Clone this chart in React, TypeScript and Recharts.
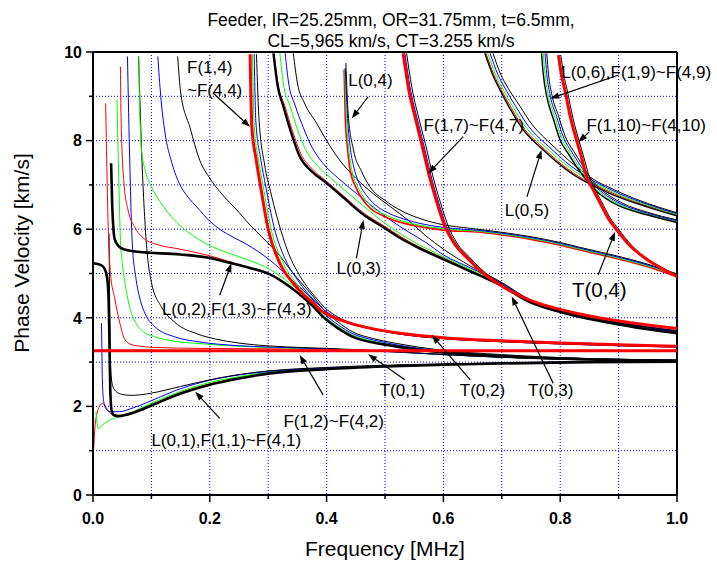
import React from 'react';
import { LineChart, Line, XAxis, YAxis, CartesianGrid, ReferenceLine, ReferenceDot } from 'recharts';

type Pt = [number, number];

const RED = '#ff0000';
const GREEN = '#00ff00';
const BLUE = '#0000ff';
const BLACK = '#000000';
const FONT = 'Arial, "Liberation Sans", Helvetica, sans-serif';

const xTicks = [0, 0.1, 0.2, 0.3, 0.4, 0.5, 0.6, 0.7, 0.8, 0.9, 1.0];
const yTicks = [0, 1, 2, 3, 4, 5, 6, 7, 8, 9, 10];

// frequency [MHz], phase velocity [km/s]

// L(0,1), F(1,1)~F(4,1)
const L01: Pt[] = [[0, 5.23], [0.014, 5.19], [0.02, 5.1], [0.024, 4.92], [0.0265, 4.5], [0.028, 3.6], [0.0295, 2.4], [0.032, 1.9], [0.036, 1.8], [0.045, 1.78], [0.06, 1.82], [0.08, 1.91], [0.1, 2.02], [0.15, 2.29], [0.2, 2.49], [0.25, 2.63], [0.3, 2.74], [0.4, 2.84], [0.5, 2.9], [0.6, 2.94], [0.7, 2.97], [0.85, 3.0], [1, 3.01]];
const F11: Pt[] = [[0.001, 1.0], [0.003, 1.47], [0.007, 1.85], [0.011, 2.0], [0.016, 2.07], [0.02, 2.03], [0.026, 1.9], [0.034, 1.81], [0.045, 1.8], [0.06, 1.84], [0.08, 1.93], [0.1, 2.04], [0.15, 2.31], [0.2, 2.51], [0.25, 2.65], [0.3, 2.75], [0.4, 2.85], [0.5, 2.9], [0.6, 2.94], [0.7, 2.97], [0.85, 3.0], [1, 3.01]];
const F21: Pt[] = [[0.005, 1.88], [0.007, 1.62], [0.009, 1.5], [0.013, 1.54], [0.02, 1.62], [0.03, 1.7], [0.04, 1.75], [0.065, 1.86], [0.08, 1.95], [0.1, 2.07], [0.15, 2.34], [0.2, 2.54], [0.25, 2.67], [0.3, 2.77], [0.4, 2.86], [0.5, 2.91], [0.6, 2.95], [0.7, 2.98], [0.85, 3.0], [1, 3.02]];
const F31: Pt[] = [[0.0145, 3.88], [0.0152, 3.3], [0.016, 2.6], [0.018, 2.15], [0.022, 1.95], [0.03, 1.88], [0.045, 1.88], [0.065, 1.95], [0.08, 2.02], [0.1, 2.13], [0.15, 2.4], [0.2, 2.59], [0.25, 2.71], [0.3, 2.79], [0.4, 2.87], [0.5, 2.92], [0.6, 2.95], [0.7, 2.98], [0.85, 3.01], [1, 3.02]];
const F41: Pt[] = [[0.0275, 5.9], [0.0283, 4.6], [0.0295, 3.3], [0.031, 2.7], [0.034, 2.45], [0.04, 2.33], [0.05, 2.27], [0.065, 2.25], [0.08, 2.26], [0.1, 2.3], [0.15, 2.45], [0.2, 2.6], [0.25, 2.72], [0.3, 2.8], [0.4, 2.88], [0.5, 2.93], [0.6, 2.96], [0.7, 2.98], [0.85, 3.01], [1, 3.03]];

// T(0,1)
const T01: Pt[] = [[0, 3.255], [1, 3.255]];

// F(1,2)~F(4,2)
const F12: Pt[] = [[0.0217, 8.84], [0.024, 7.2], [0.0267, 5.75], [0.03, 5.0], [0.037, 4.45], [0.046, 3.88], [0.054, 3.52], [0.065, 3.4], [0.08, 3.36], [0.106, 3.33], [0.18, 3.31], [0.3, 3.3], [0.4, 3.29], [0.5, 3.24], [0.6, 3.17], [0.7, 3.11], [0.8, 3.07], [0.9, 3.05], [1, 3.03]];
const F22: Pt[] = [[0.041, 8.92], [0.044, 7.2], [0.047, 5.75], [0.05, 5.25], [0.054, 4.85], [0.06, 4.4], [0.066, 4.1], [0.075, 3.85], [0.083, 3.72], [0.106, 3.57], [0.14, 3.47], [0.18, 3.42], [0.25, 3.36], [0.3, 3.33], [0.4, 3.3], [0.5, 3.24], [0.6, 3.17], [0.7, 3.11], [0.8, 3.07], [0.9, 3.05], [1, 3.03]];
const F32: Pt[] = [[0.059, 9.9], [0.063, 7.5], [0.067, 5.75], [0.074, 4.85], [0.08, 4.45], [0.089, 4.1], [0.106, 3.8], [0.14, 3.57], [0.18, 3.46], [0.25, 3.37], [0.3, 3.34], [0.4, 3.3], [0.5, 3.24], [0.6, 3.17], [0.7, 3.11], [0.8, 3.07], [0.9, 3.05], [1, 3.03]];
const F42: Pt[] = [[0.078, 9.9], [0.084, 7.5], [0.091, 5.75], [0.1, 4.8], [0.117, 4.25], [0.14, 3.9], [0.18, 3.63], [0.21, 3.52], [0.25, 3.43], [0.32, 3.35], [0.4, 3.31], [0.5, 3.25], [0.6, 3.17], [0.7, 3.11], [0.8, 3.07], [0.9, 3.05], [1, 3.03]];

// L(0,2), F(1,3)~F(4,3)
const L02: Pt[] = [[0.031, 7.49], [0.033, 6.5], [0.035, 6.0], [0.037, 5.78], [0.043, 5.63], [0.054, 5.54], [0.077, 5.49], [0.15, 5.43], [0.2, 5.35], [0.235, 5.24], [0.27, 5.12], [0.303, 4.98], [0.337, 4.7], [0.36, 4.46], [0.377, 4.26], [0.394, 4.02], [0.42, 3.76], [0.445, 3.57], [0.48, 3.44], [0.52, 3.35], [0.59, 3.23], [0.7, 3.13], [0.85, 3.06], [1, 3.03]];
const F13: Pt[] = [[0.047, 9.67], [0.048, 8.54], [0.053, 7.04], [0.06, 6.43], [0.071, 6.06], [0.088, 5.78], [0.106, 5.67], [0.149, 5.55], [0.2, 5.4], [0.25, 5.2], [0.303, 4.99], [0.337, 4.71], [0.36, 4.47], [0.377, 4.27], [0.394, 4.03], [0.42, 3.77], [0.445, 3.58], [0.48, 3.45], [0.52, 3.36], [0.59, 3.24], [0.7, 3.14], [0.85, 3.07], [1, 3.04]];
const F23: Pt[] = [[0.0785, 9.9], [0.0795, 8.9], [0.081, 8.3], [0.083, 7.8], [0.09, 7.3], [0.1, 6.96], [0.115, 6.62], [0.128, 6.38], [0.149, 6.08], [0.18, 5.78], [0.2, 5.63], [0.23, 5.47], [0.263, 5.32], [0.303, 5.09], [0.337, 4.78], [0.36, 4.53], [0.377, 4.33], [0.394, 4.07], [0.42, 3.8], [0.445, 3.61], [0.48, 3.47], [0.52, 3.38], [0.59, 3.25], [0.7, 3.15], [0.85, 3.07], [1, 3.04]];
const F33: Pt[] = [[0.111, 9.9], [0.116, 9.0], [0.123, 8.2], [0.135, 7.5], [0.149, 7.0], [0.163, 6.72], [0.178, 6.5], [0.2, 6.18], [0.217, 6.0], [0.24, 5.82], [0.263, 5.66], [0.303, 5.3], [0.337, 4.9], [0.36, 4.62], [0.377, 4.4], [0.394, 4.12], [0.42, 3.84], [0.445, 3.64], [0.48, 3.5], [0.52, 3.39], [0.59, 3.26], [0.7, 3.15], [0.85, 3.08], [1, 3.04]];
const F43: Pt[] = [[0.145, 9.9], [0.15, 9.1], [0.166, 8.3], [0.183, 7.55], [0.2, 7.15], [0.217, 6.85], [0.25, 6.38], [0.263, 6.18], [0.297, 5.72], [0.32, 5.4], [0.337, 5.1], [0.36, 4.74], [0.377, 4.48], [0.394, 4.2], [0.42, 3.9], [0.445, 3.68], [0.48, 3.53], [0.52, 3.42], [0.59, 3.28], [0.7, 3.17], [0.85, 3.08], [1, 3.05]];

// T(0,2), F(1,4)~F(4,4)
const T02: Pt[] = [[0.269, 9.95], [0.272, 8.31], [0.279, 7.6], [0.286, 7.04], [0.3, 6.0], [0.32, 5.23], [0.343, 4.78], [0.36, 4.53], [0.377, 4.33], [0.389, 4.18], [0.41, 4.02], [0.44, 3.88], [0.48, 3.75], [0.526, 3.65], [0.6, 3.55], [0.7, 3.48], [0.8, 3.43], [0.9, 3.39], [1, 3.36]];
const F24: Pt[] = [[0.273, 9.95], [0.276, 8.35], [0.283, 7.6], [0.291, 7.0], [0.305, 6.0], [0.325, 5.26], [0.347, 4.8], [0.363, 4.55], [0.379, 4.35], [0.391, 4.19], [0.412, 4.02], [0.44, 3.87], [0.48, 3.74], [0.526, 3.64], [0.6, 3.54], [0.7, 3.47], [0.8, 3.42], [0.9, 3.38], [1, 3.35]];
const F34: Pt[] = [[0.276, 9.95], [0.279, 8.4], [0.287, 7.6], [0.296, 6.95], [0.31, 6.05], [0.33, 5.3], [0.351, 4.84], [0.366, 4.58], [0.381, 4.37], [0.393, 4.21], [0.413, 4.03], [0.44, 3.87], [0.48, 3.74], [0.526, 3.63], [0.6, 3.53], [0.7, 3.46], [0.8, 3.41], [0.9, 3.37], [1, 3.34]];
const F44: Pt[] = [[0.28, 9.95], [0.284, 8.54], [0.294, 7.45], [0.304, 6.85], [0.315, 6.28], [0.335, 5.45], [0.355, 4.93], [0.37, 4.64], [0.384, 4.42], [0.396, 4.24], [0.415, 4.05], [0.44, 3.88], [0.48, 3.74], [0.526, 3.63], [0.6, 3.53], [0.7, 3.46], [0.8, 3.41], [0.9, 3.37], [1, 3.34]];

// L(0,3), F(1,5)~F(4,5)
const L03: Pt[] = [[0.309, 9.97], [0.316, 9.25], [0.326, 8.77], [0.34, 8.15], [0.354, 7.64], [0.375, 7.3], [0.4, 7.04], [0.43, 6.7], [0.463, 6.33], [0.5, 6.02], [0.526, 5.8], [0.554, 5.6], [0.6, 5.32], [0.646, 5.05], [0.697, 4.74], [0.75, 4.34], [0.8, 4.13], [0.85, 3.97], [0.9, 3.85], [0.95, 3.74], [1, 3.65]];
const F15: Pt[] = [[0.31, 9.97], [0.318, 9.2], [0.328, 8.8], [0.342, 8.2], [0.356, 7.7], [0.377, 7.34], [0.4, 7.08], [0.43, 6.74], [0.463, 6.37], [0.5, 6.06], [0.526, 5.84], [0.554, 5.63], [0.6, 5.35], [0.646, 5.07], [0.697, 4.76], [0.75, 4.36], [0.8, 4.15], [0.85, 3.99], [0.9, 3.86], [0.95, 3.75], [1, 3.66]];
const F25: Pt[] = [[0.32, 9.97], [0.327, 9.2], [0.337, 8.8], [0.35, 8.25], [0.364, 7.8], [0.385, 7.42], [0.41, 7.12], [0.44, 6.78], [0.47, 6.45], [0.5, 6.13], [0.526, 5.9], [0.554, 5.68], [0.6, 5.38], [0.646, 5.1], [0.697, 4.78], [0.75, 4.37], [0.8, 4.16], [0.85, 4.0], [0.9, 3.87], [0.95, 3.76], [1, 3.67]];
const F35: Pt[] = [[0.329, 9.97], [0.335, 9.3], [0.346, 8.8], [0.36, 8.3], [0.373, 7.9], [0.393, 7.5], [0.42, 7.15], [0.45, 6.82], [0.48, 6.5], [0.51, 6.2], [0.54, 5.94], [0.57, 5.7], [0.6, 5.42], [0.646, 5.13], [0.697, 4.8], [0.75, 4.38], [0.8, 4.17], [0.85, 4.01], [0.9, 3.88], [0.95, 3.77], [1, 3.68]];
const F45: Pt[] = [[0.343, 9.97], [0.35, 9.3], [0.362, 8.85], [0.383, 8.39], [0.4, 8.0], [0.42, 7.6], [0.45, 7.15], [0.48, 6.8], [0.51, 6.5], [0.54, 6.2], [0.57, 5.85], [0.6, 5.55], [0.646, 5.17], [0.697, 4.82], [0.75, 4.4], [0.8, 4.18], [0.85, 4.02], [0.9, 3.89], [0.95, 3.78], [1, 3.69]];

// L(0,4), F(1,6)~F(4,6)
const F16: Pt[] = [[0.43, 9.6], [0.432, 8.5], [0.436, 7.8], [0.44, 7.35], [0.45, 6.95], [0.46, 6.7], [0.475, 6.47], [0.497, 6.3], [0.525, 6.16], [0.554, 6.07], [0.6, 5.98], [0.663, 5.93], [0.7, 5.87], [0.75, 5.77], [0.8, 5.64], [0.834, 5.53], [0.88, 5.39], [0.92, 5.26], [0.96, 5.11], [1, 4.93]];
const F26: Pt[] = [[0.431, 9.62], [0.434, 8.5], [0.438, 7.8], [0.443, 7.35], [0.453, 6.97], [0.463, 6.73], [0.478, 6.5], [0.5, 6.33], [0.528, 6.19], [0.556, 6.1], [0.6, 6.01], [0.663, 5.95], [0.7, 5.89], [0.75, 5.79], [0.8, 5.66], [0.834, 5.55], [0.88, 5.41], [0.92, 5.28], [0.96, 5.13], [1, 4.95]];
const F36: Pt[] = [[0.432, 9.64], [0.436, 8.5], [0.441, 7.8], [0.447, 7.38], [0.457, 7.0], [0.468, 6.77], [0.483, 6.55], [0.505, 6.37], [0.532, 6.23], [0.56, 6.13], [0.6, 6.04], [0.663, 5.97], [0.7, 5.91], [0.75, 5.81], [0.8, 5.68], [0.834, 5.57], [0.88, 5.43], [0.92, 5.3], [0.96, 5.15], [1, 4.97]];
const L04: Pt[] = [[0.433, 9.75], [0.437, 8.6], [0.446, 7.79], [0.46, 7.3], [0.474, 6.96], [0.5, 6.65], [0.526, 6.43], [0.56, 6.24], [0.6, 6.1], [0.646, 6.02], [0.7, 5.93], [0.75, 5.83], [0.8, 5.7], [0.834, 5.59], [0.88, 5.45], [0.92, 5.32], [0.96, 5.17], [1, 4.99]];

// T(0,3), F(1,7)~F(4,7)
const T03: Pt[] = [[0.531, 9.97], [0.54, 9.2], [0.554, 8.4], [0.566, 7.75], [0.574, 7.3], [0.589, 6.6], [0.6, 6.15], [0.62, 5.65], [0.64, 5.36], [0.66, 5.1], [0.697, 4.74], [0.714, 4.61], [0.75, 4.39], [0.8, 4.19], [0.85, 4.04], [0.9, 3.93], [0.95, 3.84], [1, 3.76]];
const F37: Pt[] = [[0.534, 9.97], [0.543, 9.2], [0.557, 8.4], [0.569, 7.76], [0.577, 7.3], [0.592, 6.6], [0.603, 6.15], [0.622, 5.66], [0.642, 5.37], [0.661, 5.11], [0.698, 4.75], [0.715, 4.61], [0.75, 4.38], [0.8, 4.17], [0.85, 4.02], [0.9, 3.9], [0.95, 3.8], [1, 3.71]];
const F47: Pt[] = [[0.537, 9.97], [0.546, 9.2], [0.56, 8.4], [0.572, 7.77], [0.58, 7.3], [0.595, 6.6], [0.606, 6.15], [0.624, 5.67], [0.644, 5.38], [0.663, 5.12], [0.699, 4.76], [0.716, 4.62], [0.75, 4.37], [0.8, 4.16], [0.85, 4.01], [0.9, 3.89], [0.95, 3.79], [1, 3.7]];

// L(0,5), F(1,8)~F(4,8)
const L05: Pt[] = [[0.671, 9.97], [0.684, 9.5], [0.697, 9.14], [0.715, 8.7], [0.737, 8.24], [0.755, 7.98], [0.771, 7.79], [0.79, 7.56], [0.811, 7.34], [0.83, 7.17], [0.851, 7.02], [0.875, 6.87], [0.897, 6.74], [0.95, 6.5], [1, 6.3]];
const F18: Pt[] = [[0.673, 9.97], [0.686, 9.5], [0.699, 9.15], [0.717, 8.72], [0.739, 8.26], [0.757, 8.0], [0.773, 7.81], [0.792, 7.58], [0.813, 7.36], [0.832, 7.19], [0.853, 7.04], [0.877, 6.89], [0.899, 6.76], [0.95, 6.52], [1, 6.32]];
const F28: Pt[] = [[0.676, 9.97], [0.689, 9.5], [0.702, 9.16], [0.72, 8.74], [0.742, 8.29], [0.76, 8.03], [0.776, 7.84], [0.795, 7.61], [0.816, 7.39], [0.835, 7.22], [0.855, 7.06], [0.879, 6.91], [0.9, 6.78], [0.95, 6.54], [1, 6.33]];
const F38: Pt[] = [[0.68, 9.97], [0.693, 9.5], [0.706, 9.17], [0.724, 8.77], [0.746, 8.32], [0.764, 8.06], [0.78, 7.87], [0.799, 7.64], [0.819, 7.42], [0.838, 7.25], [0.858, 7.08], [0.881, 6.93], [0.902, 6.8], [0.95, 6.56], [1, 6.35]];
const F48: Pt[] = [[0.685, 9.97], [0.698, 9.5], [0.711, 9.18], [0.73, 8.8], [0.752, 8.36], [0.77, 8.1], [0.786, 7.9], [0.804, 7.68], [0.823, 7.46], [0.841, 7.28], [0.86, 7.1], [0.883, 6.95], [0.904, 6.82], [0.95, 6.58], [1, 6.37]];

// L(0,6), F(1,9)~F(4,9)
const L06: Pt[] = [[0.768, 9.97], [0.771, 9.5], [0.777, 8.99], [0.788, 8.5], [0.8, 8.01], [0.814, 7.7], [0.828, 7.41], [0.845, 7.11], [0.86, 6.88], [0.88, 6.68], [0.9, 6.53], [0.95, 6.32], [1, 6.15]];
const F29: Pt[] = [[0.771, 9.97], [0.774, 9.5], [0.78, 9.0], [0.791, 8.52], [0.803, 8.04], [0.817, 7.72], [0.831, 7.43], [0.847, 7.13], [0.862, 6.9], [0.882, 6.7], [0.902, 6.55], [0.95, 6.34], [1, 6.17]];
const F39: Pt[] = [[0.774, 9.97], [0.777, 9.5], [0.783, 9.01], [0.794, 8.54], [0.806, 8.06], [0.82, 7.74], [0.834, 7.45], [0.849, 7.15], [0.864, 6.92], [0.884, 6.72], [0.904, 6.57], [0.95, 6.36], [1, 6.19]];
const F49: Pt[] = [[0.777, 9.97], [0.78, 9.5], [0.786, 9.02], [0.797, 8.56], [0.809, 8.08], [0.823, 7.76], [0.837, 7.47], [0.851, 7.17], [0.866, 6.94], [0.886, 6.74], [0.906, 6.59], [0.95, 6.38], [1, 6.21]];

// T(0,4), F(1,10)~F(4,10)
const T04: Pt[] = [[0.797, 9.93], [0.802, 9.5], [0.808, 9.14], [0.818, 8.5], [0.828, 8.01], [0.837, 7.6], [0.845, 7.2], [0.856, 6.9], [0.868, 6.6], [0.882, 6.25], [0.897, 5.98], [0.92, 5.62], [0.954, 5.27], [0.98, 5.07], [1, 4.93]];
const F410: Pt[] = [[0.801, 9.93], [0.806, 9.5], [0.812, 9.14], [0.822, 8.5], [0.832, 8.01], [0.841, 7.6], [0.849, 7.22], [0.859, 6.92], [0.871, 6.62], [0.885, 6.27], [0.9, 6.0], [0.922, 5.64], [0.955, 5.28], [0.98, 5.09], [1, 4.95]];

interface Curve { name: string; pts: Pt[]; color: string; width: number }

const thin = (name: string, pts: Pt[], color: string): Curve => ({ name, pts, color, width: 1 });

const curves: Curve[] = [
  thin('F(1,1)', F11, RED), thin('F(2,1)', F21, GREEN), thin('F(3,1)', F31, BLUE), thin('F(4,1)', F41, BLACK),
  thin('F(1,2)', F12, RED), thin('F(2,2)', F22, GREEN), thin('F(3,2)', F32, BLUE), thin('F(4,2)', F42, BLACK),
  thin('F(1,3)', F13, RED), thin('F(2,3)', F23, GREEN), thin('F(3,3)', F33, BLUE), thin('F(4,3)', F43, BLACK),
  thin('F(2,4)', F24, GREEN), thin('F(3,4)', F34, BLUE), thin('F(4,4)', F44, BLACK),
  thin('F(1,5)', F15, RED), thin('F(2,5)', F25, GREEN), thin('F(3,5)', F35, BLUE), thin('F(4,5)', F45, BLACK),
  { name: 'F(1,6)', pts: F16, color: RED, width: 1.6 },
  thin('F(2,6)', F26, GREEN), thin('F(3,6)', F36, BLUE), thin('L(0,4)', L04, BLACK),
  thin('F(3,7)', F37, BLUE), thin('F(4,7)', F47, BLACK),
  thin('F(1,8)', F18, RED), thin('F(2,8)', F28, GREEN), thin('F(3,8)', F38, BLUE), thin('F(4,8)', F48, BLACK),
  thin('F(2,9)', F29, GREEN), thin('F(3,9)', F39, BLUE), thin('F(4,9)', F49, BLACK),
  thin('F(4,10)', F410, BLACK),
  { name: 'L(0,5)', pts: L05, color: BLACK, width: 1.4 },
  { name: 'L(0,6)', pts: L06, color: BLACK, width: 1.4 },
  { name: 'L(0,1)', pts: L01, color: BLACK, width: 2.6 },
  { name: 'L(0,2)', pts: L02, color: BLACK, width: 2.6 },
  { name: 'L(0,3)', pts: L03, color: BLACK, width: 2.4 },
  { name: 'T(0,1)', pts: T01, color: RED, width: 3 },
  { name: 'T(0,2)', pts: T02, color: RED, width: 3 },
  { name: 'T(0,3)', pts: T03, color: RED, width: 3 },
  { name: 'T(0,4)', pts: T04, color: RED, width: 3 },
];

// annotation texts: [f, v] of the text's left end
interface Note { text: string; at: Pt; big?: boolean }
const notes: Note[] = [
  { text: 'F(1,4)', at: [0.161, 9.66] },
  { text: '~F(4,4)', at: [0.161, 9.14] },
  { text: 'L(0,4)', at: [0.437, 9.37] },
  { text: 'F(1,7)~F(4,7)', at: [0.566, 8.35] },
  { text: 'L(0,6),F(1,9)~F(4,9)', at: [0.802, 9.56] },
  { text: 'F(1,10)~F(4,10)', at: [0.845, 8.35] },
  { text: 'L(0,5)', at: [0.705, 6.43] },
  { text: 'L(0,3)', at: [0.417, 5.12] },
  { text: 'L(0,2),F(1,3)~F(4,3)', at: [0.118, 4.21] },
  { text: 'L(0,1),F(1,1)~F(4,1)', at: [0.1, 1.24] },
  { text: 'F(1,2)~F(4,2)', at: [0.326, 1.68] },
  { text: 'T(0,1)', at: [0.491, 2.37] },
  { text: 'T(0,2)', at: [0.628, 2.37] },
  { text: 'T(0,3)', at: [0.745, 2.37] },
  { text: 'T(0,4)', at: [0.82, 4.63], big: true },
];

// arrows: [tail, head]
const arrows: [Pt, Pt][] = [
  [[0.205, 9.08], [0.269, 8.31]],
  [[0.471, 8.99], [0.443, 8.5]],
  [[0.634, 8.09], [0.574, 7.26]],
  [[0.9, 9.48], [0.783, 8.95]],
  [[0.85, 8.2], [0.831, 7.97]],
  [[0.743, 6.73], [0.768, 7.79]],
  [[0.451, 5.34], [0.463, 6.21]],
  [[0.217, 4.51], [0.237, 5.23]],
  [[0.217, 1.73], [0.175, 2.33]],
  [[0.394, 2.26], [0.354, 3.16]],
  [[0.534, 2.6], [0.471, 3.18]],
  [[0.646, 2.6], [0.58, 3.61]],
  [[0.788, 2.52], [0.717, 4.48]],
  [[0.865, 4.97], [0.894, 5.94]],
];

const XTick = (props: any) => {
  const { x, y, payload } = props;
  const v = payload.value as number;
  const major = Math.round(v * 10) % 2 === 0;
  return (
    <g>
      <line x1={x} y1={y} x2={x} y2={y + (major ? 7 : 4)} stroke={BLACK} strokeWidth={1.5} />
      {major && (
        <text x={x} y={y + 29} textAnchor="middle" fontFamily={FONT} fontWeight="bold" fontSize={16} fill={BLACK}>
          {v.toFixed(1)}
        </text>
      )}
    </g>
  );
};

const YTick = (props: any) => {
  const { x, y, payload } = props;
  const v = payload.value as number;
  const major = v % 2 === 0;
  return (
    <g>
      <line x1={x} y1={y} x2={x - (major ? 7 : 4)} y2={y} stroke={BLACK} strokeWidth={1.5} />
      {major && (
        <text x={x - 11} y={y} dy="0.36em" textAnchor="end" fontFamily={FONT} fontWeight="bold" fontSize={16} fill={BLACK}>
          {v}
        </text>
      )}
    </g>
  );
};

const ArrowShape = (p: any) => {
  const { x1, y1, x2, y2 } = p;
  const a = Math.atan2(y2 - y1, x2 - x1);
  const len = 9;
  const half = 3.2;
  const bx = x2 - len * Math.cos(a);
  const by = y2 - len * Math.sin(a);
  const nx = -Math.sin(a) * half;
  const ny = Math.cos(a) * half;
  return (
    <g>
      <line x1={x1} y1={y1} x2={bx} y2={by} stroke={BLACK} strokeWidth={1.2} />
      <polygon points={`${x2},${y2} ${bx + nx},${by + ny} ${bx - nx},${by - ny}`} fill={BLACK} />
    </g>
  );
};

export default function App() {
  return (
    <div style={{ position: 'absolute', left: 0, top: 0, width: 717, height: 565, background: '#fff' }}>
      <LineChart width={717} height={565} margin={{ top: 52, right: 40, bottom: 0, left: 0 }}>
        <CartesianGrid stroke={BLUE} strokeDasharray="1 2" strokeWidth={1} />
        <XAxis
          type="number"
          dataKey="f"
          domain={[0, 1]}
          ticks={xTicks}
          interval={0}
          allowDataOverflow
          height={70}
          tickSize={0}
          tickMargin={0}
          tickLine={false}
          tick={<XTick />}
          axisLine={{ stroke: BLACK, strokeWidth: 2 }}
        />
        <YAxis
          type="number"
          dataKey="v"
          domain={[0, 10]}
          ticks={yTicks}
          interval={0}
          allowDataOverflow
          width={93}
          tickSize={0}
          tickMargin={0}
          tickLine={false}
          tick={<YTick />}
          axisLine={{ stroke: BLACK, strokeWidth: 2 }}
        />
        <ReferenceLine y={10} stroke={BLACK} strokeWidth={2} />
        <ReferenceLine x={1} stroke={BLACK} strokeWidth={2} />
        {curves.map((c) => (
          <Line
            key={c.name}
            name={c.name}
            data={c.pts.map(([f, v]) => ({ f, v }))}
            dataKey="v"
            type="monotone"
            stroke={c.color}
            strokeWidth={c.width}
            dot={false}
            activeDot={false}
            isAnimationActive={false}
          />
        ))}
        {arrows.map(([a, b], i) => (
          <ReferenceLine
            key={`arrow-${i}`}
            segment={[{ x: a[0], y: a[1] }, { x: b[0], y: b[1] }]}
            ifOverflow="visible"
            shape={ArrowShape}
          />
        ))}
        {notes.map((n) => (
          <ReferenceDot
            key={n.text}
            x={n.at[0]}
            y={n.at[1]}
            r={0}
            ifOverflow="visible"
            shape={(p: any) => (
              <text x={p.cx} y={p.cy} dy="0.36em" fontFamily={FONT} fontSize={n.big ? 20.5 : 17} fill={BLACK}>
                {n.text}
              </text>
            )}
          />
        ))}
      </LineChart>
      <svg width={717} height={565} style={{ position: 'absolute', left: 0, top: 0, pointerEvents: 'none' }}>
        <text x={391} y={26} textAnchor="middle" fontFamily={FONT} fontSize={17.5} fill={BLACK}>
          Feeder, IR=25.25mm, OR=31.75mm, t=6.5mm,
        </text>
        <text x={391} y={47} textAnchor="middle" fontFamily={FONT} fontSize={17.5} fill={BLACK}>
          CL=5,965 km/s, CT=3.255 km/s
        </text>
        <text x={385} y={556} textAnchor="middle" fontFamily={FONT} fontSize={21} fill={BLACK}>
          Frequency [MHz]
        </text>
        <text x={0} y={0} transform="translate(29 253) rotate(-90)" textAnchor="middle" fontFamily={FONT} fontSize={21} fill={BLACK}>
          Phase Velocity [km/s]
        </text>
      </svg>
    </div>
  );
}
